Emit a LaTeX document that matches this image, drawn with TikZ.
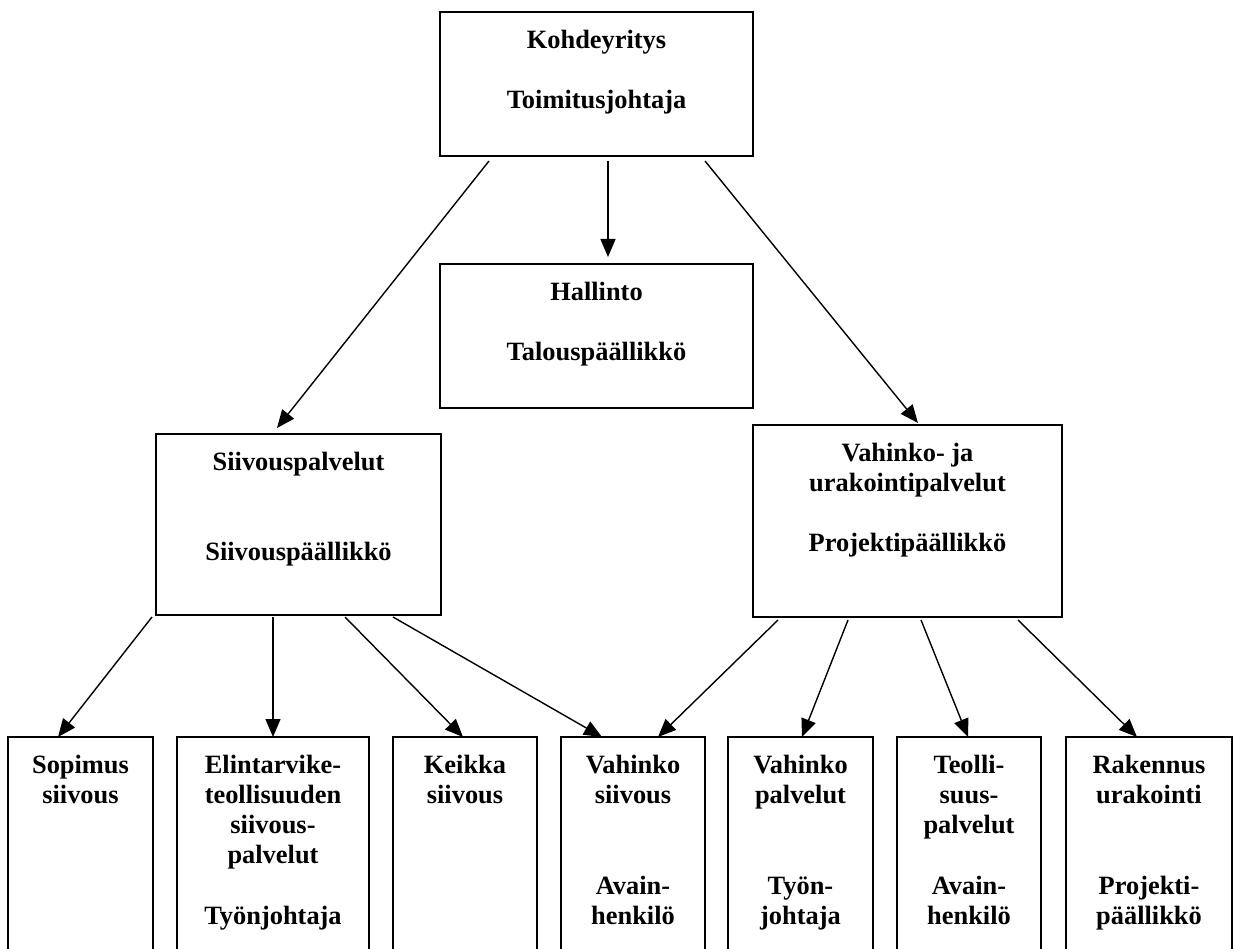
\documentclass[tikz,border=0pt]{standalone}
\usepackage{fontspec}
\setmainfont{Liberation Serif}
\usetikzlibrary{arrows.meta}
\newcommand{\boxtxt}[3]{\parbox[c][#2][t]{#1}{\fontsize{26.4pt}{30.3pt}\selectfont\bfseries\centering\vspace*{14.8pt}\strut #3\par}}
\tikzset{
  orgbox/.style={draw, line width=1.6pt, inner sep=0pt, outer sep=0pt, anchor=north west},
  arr/.style={line width=1.4pt, -{Triangle[length=18pt,width=15pt]}}
}
\begin{document}
\begin{tikzpicture}[x=1pt,y=-1pt]
\useasboundingbox (0,0) rectangle (1234,949);
\clip (0,0) rectangle (1234,949);
\fill[white] (0,0) rectangle (1234,949);

\node[orgbox] (top) at (440,12) {\boxtxt{313pt}{144pt}{Kohdeyritys\\[30.3pt]Toimitusjohtaja}};
\node[orgbox] (hal) at (440,264) {\boxtxt{313pt}{144pt}{Hallinto\\[30.3pt]Talouspäällikkö}};
\node[orgbox] (siiv) at (156,434) {\boxtxt{285pt}{181pt}{Siivouspalvelut\\[60.6pt]Siivouspäällikkö}};
\node[orgbox] (vah) at (753,425) {\boxtxt{309pt}{192pt}{Vahinko- ja\\urakointipalvelut\\[30.3pt]Projektipäällikkö}};

\node[orgbox] (b1) at (8,737) {\boxtxt{145pt}{260pt}{Sopimus\\siivous}};
\node[orgbox] (b2) at (177,737) {\boxtxt{192pt}{260pt}{Elintarvike-\\teollisuuden\\siivous-\\palvelut\\[30.3pt]Työnjohtaja}};
\node[orgbox] (b3) at (393,737) {\boxtxt{144pt}{260pt}{Keikka\\siivous}};
\node[orgbox] (b4) at (561,737) {\boxtxt{144pt}{260pt}{Vahinko\\siivous\\[60.6pt]Avain-\\henkilö}};
\node[orgbox] (b5) at (728,737) {\boxtxt{145pt}{260pt}{Vahinko\\palvelut\\[60.6pt]Työn-\\johtaja}};
\node[orgbox] (b6) at (897,737) {\boxtxt{144pt}{260pt}{Teolli-\\suus-\\palvelut\\[30.3pt]Avain-\\henkilö}};
\node[orgbox] (b7) at (1066,737) {\boxtxt{166pt}{260pt}{Rakennus\\urakointi\\[60.6pt]Projekti-\\päällikkö}};

% top level connectors
\draw[arr] ([xshift=168pt,yshift=-5pt]top.south west) -- ([xshift=168pt,yshift=7pt]hal.north west);
\draw[arr] ([xshift=49pt,yshift=-5pt]top.south west) -- ([xshift=121pt,yshift=6pt]siiv.north west);
\draw[arr] ([xshift=265pt,yshift=-5pt]top.south west) -- ([xshift=165pt,yshift=2pt]vah.north west);

% Siivouspalvelut connectors
\draw[arr] ([xshift=-4pt,yshift=-2pt]siiv.south west) -- ([xshift=50pt]b1.north west);
\draw[arr] ([xshift=117pt,yshift=-2pt]siiv.south west) -- ([xshift=96pt]b2.north west);
\draw[arr] ([xshift=189pt,yshift=-2pt]siiv.south west) -- ([xshift=70pt]b3.north west);
\draw[arr] ([xshift=237pt,yshift=-2pt]siiv.south west) -- ([xshift=41pt]b4.north west);

% Vahinko- ja urakointipalvelut connectors
\draw[arr] ([xshift=25pt,yshift=-3pt]vah.south west) -- ([xshift=97pt]b4.north west);
\draw[arr] ([xshift=95pt,yshift=-3pt]vah.south west) -- ([xshift=74pt]b5.north west);
\draw[arr] ([xshift=168pt,yshift=-3pt]vah.south west) -- ([xshift=71pt]b6.north west);
\draw[arr] ([xshift=265pt,yshift=-3pt]vah.south west) -- ([xshift=71pt]b7.north west);
\end{tikzpicture}
\end{document}
